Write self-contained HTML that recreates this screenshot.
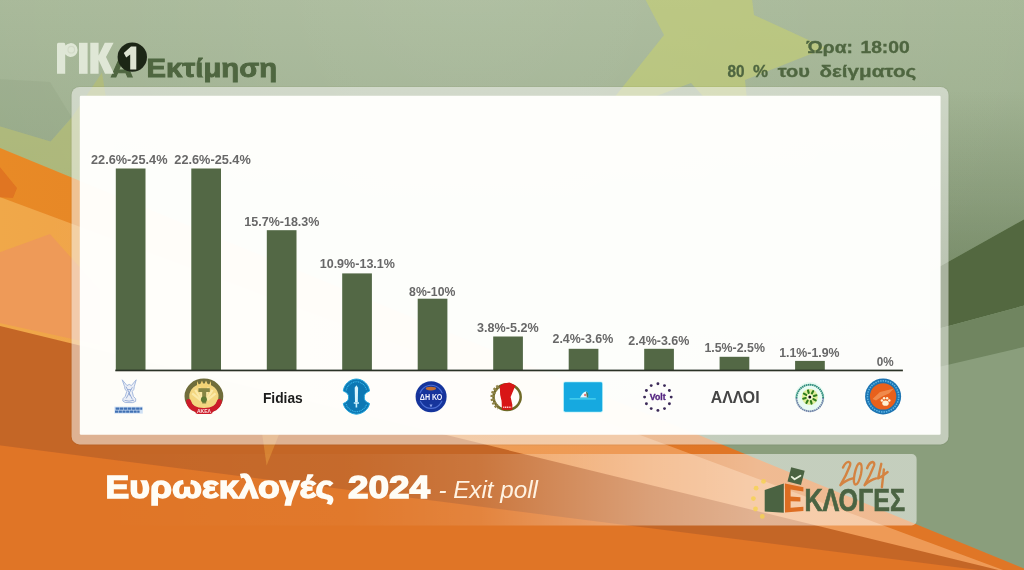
<!DOCTYPE html>
<html lang="el"><head><meta charset="utf-8"><title>Ευρωεκλογές 2024 - Exit poll</title>
<style>html,body{margin:0;padding:0;background:#8a9e7c;overflow:hidden}body{width:1024px;height:570px;font-family:"Liberation Sans",sans-serif}svg{display:block}text{font-family:"Liberation Sans",sans-serif}</style></head><body>
<svg width="1024" height="570" viewBox="0 0 1024 570">
<defs>
<linearGradient id="bg" x1="0" y1="0" x2="0" y2="1"><stop offset="0" stop-color="#a8b999"/><stop offset="0.35" stop-color="#9aac8c"/><stop offset="0.6" stop-color="#8a9e7c"/><stop offset="1" stop-color="#8a9e7c"/></linearGradient>
<linearGradient id="band" x1="0" y1="0" x2="1" y2="0"><stop offset="0" stop-color="#fff" stop-opacity="0"/><stop offset="0.315" stop-color="#fff" stop-opacity="0.03"/><stop offset="0.472" stop-color="#fff" stop-opacity="0.11"/><stop offset="0.569" stop-color="#fff" stop-opacity="0.24"/><stop offset="0.678" stop-color="#fff" stop-opacity="0.38"/><stop offset="0.811" stop-color="#fff" stop-opacity="0.5"/><stop offset="1" stop-color="#fff" stop-opacity="0.5"/></linearGradient>
<radialGradient id="glow" gradientUnits="userSpaceOnUse" cx="470" cy="-60" r="600"><stop offset="0" stop-color="#fff" stop-opacity="0.10"/><stop offset="0.5" stop-color="#fff" stop-opacity="0.04"/><stop offset="1" stop-color="#fff" stop-opacity="0"/></radialGradient>
<linearGradient id="o1" gradientUnits="userSpaceOnUse" x1="0" y1="0" x2="1024" y2="0"><stop offset="0" stop-color="#e88a28"/><stop offset="0.7" stop-color="#e07626"/></linearGradient>
<linearGradient id="o2" gradientUnits="userSpaceOnUse" x1="0" y1="0" x2="1024" y2="0"><stop offset="0" stop-color="#f0a848"/><stop offset="0.1" stop-color="#f0a44c"/><stop offset="0.6" stop-color="#ee9a56"/></linearGradient>
<linearGradient id="shade" gradientUnits="userSpaceOnUse" x1="0" y1="90" x2="0" y2="265"><stop offset="0" stop-color="#50663f" stop-opacity="0"/><stop offset="1" stop-color="#50663f" stop-opacity="0.36"/></linearGradient>
<filter id="b1" x="-5%" y="-5%" width="110%" height="110%"><feGaussianBlur stdDeviation="0.7"/></filter>
<filter id="b2" x="-5%" y="-5%" width="110%" height="110%"><feGaussianBlur stdDeviation="0.45"/></filter>
</defs>
<g filter="url(#b1)">
<rect x="-5" y="-5" width="1034" height="580" fill="url(#bg)"/>
<rect x="-5" y="-5" width="1034" height="580" fill="url(#glow)"/>
<polygon points="643,-5 664,35 598,118 691,83 752,150 745,80 826,48 754,15 751.5,-5" fill="#c8d06e" fill-opacity="0.56"/>
<polygon points="-5,79 50,82 71.5,117 50.6,141.5 -5,125" fill="#5f7650" fill-opacity="0.08"/>
<polygon points="102,72.5 71,118.5 50.6,141.5 -5,125 -5,200 122,200" fill="#b9c06a" fill-opacity="0.55"/>
<polygon points="1030,90 930,90 930,272 1030,216" fill="url(#shade)"/>
<polygon points="1030,216 930,272 930,331 1030,304" fill="#52683f"/>
<polygon points="1030,304 930,331 930,369 1030,345.6" fill="#6f8560"/>
<polygon points="-5,146 1030,571 1030,580 -5,580" fill="url(#o1)"/>
<polygon points="-5,195.2 1030,580 -5,580" fill="url(#o2)"/>
<polygon points="-5,161 17,188 13,198 -5,197" fill="#e07420"/>
<polygon points="-5,254 50,234 100,290 100,345 -5,322" fill="#ee9a58"/>
<polygon points="-5,324.8 1030,577.7 1030,580 -5,580" fill="#c46628"/>
<polygon points="-5,444.8 1030,576.6 1030,580 -5,580" fill="#e07426"/>
<polygon points="266.6,465.5 261.6,430 280.8,430" fill="#eeaa3c" fill-opacity="0.42"/>
</g>
<rect x="90" y="454" width="826.6" height="71.4" rx="5" fill="url(#band)"/>
<g filter="url(#b2)">
<rect x="70.6" y="85.9" width="878.9" height="359.5" rx="9" fill="#3c4a30" fill-opacity="0.06"/>
<rect x="71.6" y="86.9" width="876.9" height="357.5" rx="8" fill="#fff" fill-opacity="0.5"/>
<rect x="79.8" y="95.7" width="860.8" height="339" rx="1.2" fill="#fffffd" fill-opacity="0.965"/>
</g>
<g filter="url(#b2)">
<rect x="115.8" y="168.5" width="29.7" height="201.9" fill="#526845"/>
<rect x="191.3" y="168.5" width="29.7" height="201.9" fill="#526845"/>
<rect x="266.8" y="230.2" width="29.7" height="140.2" fill="#526845"/>
<rect x="342.2" y="273.4" width="29.7" height="97.0" fill="#526845"/>
<rect x="417.7" y="298.7" width="29.7" height="71.7" fill="#526845"/>
<rect x="493.2" y="336.5" width="29.7" height="33.9" fill="#526845"/>
<rect x="568.7" y="348.8" width="29.7" height="21.6" fill="#526845"/>
<rect x="644.2" y="348.8" width="29.7" height="21.6" fill="#526845"/>
<rect x="719.6" y="356.8" width="29.7" height="13.6" fill="#526845"/>
<rect x="795.1" y="360.9" width="29.7" height="9.5" fill="#526845"/>
<rect x="115.3" y="369.6" width="787.6" height="1.7" fill="#2c3326"/>
<text x="91.0" y="164.4" font-size="12.8" font-weight="bold" fill="#686868" textLength="76.5" lengthAdjust="spacingAndGlyphs">22.6%-25.4%</text>
<text x="174.3" y="164.4" font-size="12.8" font-weight="bold" fill="#686868" textLength="76.5" lengthAdjust="spacingAndGlyphs">22.6%-25.4%</text>
<text x="244.3" y="225.9" font-size="12.8" font-weight="bold" fill="#686868" textLength="75.1" lengthAdjust="spacingAndGlyphs">15.7%-18.3%</text>
<text x="319.7" y="267.8" font-size="12.8" font-weight="bold" fill="#686868" textLength="75.3" lengthAdjust="spacingAndGlyphs">10.9%-13.1%</text>
<text x="409.1" y="295.5" font-size="12.8" font-weight="bold" fill="#686868" textLength="46.3" lengthAdjust="spacingAndGlyphs">8%-10%</text>
<text x="477.1" y="332.2" font-size="12.8" font-weight="bold" fill="#686868" textLength="61.5" lengthAdjust="spacingAndGlyphs">3.8%-5.2%</text>
<text x="552.5" y="342.7" font-size="12.8" font-weight="bold" fill="#686868" textLength="60.8" lengthAdjust="spacingAndGlyphs">2.4%-3.6%</text>
<text x="628.3" y="345.3" font-size="12.8" font-weight="bold" fill="#686868" textLength="61.1" lengthAdjust="spacingAndGlyphs">2.4%-3.6%</text>
<text x="704.4" y="352.3" font-size="12.8" font-weight="bold" fill="#686868" textLength="60.5" lengthAdjust="spacingAndGlyphs">1.5%-2.5%</text>
<text x="779.2" y="357.3" font-size="12.8" font-weight="bold" fill="#686868" textLength="60.3" lengthAdjust="spacingAndGlyphs">1.1%-1.9%</text>
<text x="876.7" y="365.9" font-size="12.8" font-weight="bold" fill="#686868" textLength="16.9" lengthAdjust="spacingAndGlyphs">0%</text>
</g>
<g filter="url(#b2)">
<text x="110.6" y="76.5" font-size="26.2" font-weight="bold" fill="#4f6640" stroke="#4f6640" stroke-width="0.9" textLength="30" lengthAdjust="spacingAndGlyphs">Α'</text>
<text x="146.6" y="76.5" font-size="26.2" font-weight="bold" fill="#4f6640" stroke="#4f6640" stroke-width="0.9" textLength="130.4" lengthAdjust="spacingAndGlyphs">Εκτίμηση</text>
<text x="806.7" y="53.0" font-size="17.2" font-weight="bold" fill="#4f6640" stroke="#4f6640" stroke-width="0.35" textLength="46.2" lengthAdjust="spacingAndGlyphs">Ώρα:</text>
<text x="860.4" y="53.0" font-size="17.2" font-weight="bold" fill="#4f6640" stroke="#4f6640" stroke-width="0.35" textLength="49.4" lengthAdjust="spacingAndGlyphs">18:00</text>
<text x="727.6" y="76.8" font-size="17.2" font-weight="bold" fill="#4f6640" stroke="#4f6640" stroke-width="0.35" textLength="17.0" lengthAdjust="spacingAndGlyphs">80</text>
<text x="753.0" y="76.8" font-size="17.2" font-weight="bold" fill="#4f6640" stroke="#4f6640" stroke-width="0.35" textLength="15.0" lengthAdjust="spacingAndGlyphs">%</text>
<text x="777.7" y="76.8" font-size="17.2" font-weight="bold" fill="#4f6640" stroke="#4f6640" stroke-width="0.35" textLength="32.3" lengthAdjust="spacingAndGlyphs">του</text>
<text x="819.6" y="76.8" font-size="17.2" font-weight="bold" fill="#4f6640" stroke="#4f6640" stroke-width="0.35" textLength="96.6" lengthAdjust="spacingAndGlyphs">δείγματος</text>
<text x="105.5" y="497.5" font-size="31.4" font-weight="bold" fill="#fffdf6" stroke="#fffdf6" stroke-width="1.4" textLength="228.5" lengthAdjust="spacingAndGlyphs">Ευρωεκλογές</text>
<text x="347.9" y="497.5" font-size="31.4" font-weight="bold" fill="#fffdf6" stroke="#fffdf6" stroke-width="1.4" textLength="82" lengthAdjust="spacingAndGlyphs">2024</text>
<text x="438.4" y="497.5" font-size="23.3" font-style="italic" fill="#fff3e2" textLength="99.6" lengthAdjust="spacingAndGlyphs">- Exit poll</text>
<text x="262.9" y="402.5" font-size="15.4" font-weight="bold" fill="#1c1c1c" textLength="39.9" lengthAdjust="spacingAndGlyphs">Fidias</text>
<text x="710.7" y="403.1" font-size="17.1" font-weight="bold" fill="#454545" textLength="48.9" lengthAdjust="spacingAndGlyphs">ΑΛΛΟΙ</text>
</g>
<g filter="url(#b2)">
<g>
<path d="M122.2,379.8 L127,385.6 L129.2,384.4 L131.4,385.6 L136.2,379.8 L134.2,386.8 Q134.6,389.4 132.2,391.6 L133.4,396.4 Q137,398.8 135.6,401.4 Q133.2,403.2 129,402.6 Q124.4,403.2 122.8,401 Q122,398.6 125.2,396.4 L126.8,391.4 Q124.2,389 124.6,386.6Z" fill="#eceff6" stroke="#9db2da" stroke-width="0.9"/>
<path d="M126,386.6 L132.4,399.4 M132.4,387.2 L126.2,398.4 M127.4,389.6 H131.2 M124.6,400.4 Q129,402 134,400.2 M128.6,393 L130.4,396" stroke="#8ea6d2" stroke-width="0.9" fill="none"/>
<rect x="114.4" y="406.6" width="28.4" height="7" fill="#cfe0f4"/>
<path d="M115.6,408.6 H142.2" stroke="#3f6fb3" stroke-width="2.1" stroke-dasharray="3.6 0.5"/>
<path d="M115,411.6 H139.6" stroke="#3f6fb3" stroke-width="2.1" stroke-dasharray="3.2 0.5"/>
</g>
<g>
<ellipse cx="203.9" cy="396.2" rx="17" ry="15.2" fill="#f3d680" stroke="#6f6d3a" stroke-width="4.8"/>
<path d="M197,381 L199.5,386 L202,380.5 L203.9,385.5 L206,380.5 L208.5,386 L211,381 L211,388 L197,388Z" fill="#f3d375"/>
<line x1="200.4" y1="400.2" x2="192.2" y2="393.4" stroke="#fbe9a8" stroke-width="2.2"/>
<line x1="201.3" y1="399.1" x2="195.2" y2="389.9" stroke="#fbe9a8" stroke-width="2.2"/>
<line x1="202.5" y1="398.4" x2="199.3" y2="387.5" stroke="#fbe9a8" stroke-width="2.2"/>
<line x1="205.3" y1="398.4" x2="208.5" y2="387.5" stroke="#fbe9a8" stroke-width="2.2"/>
<line x1="206.5" y1="399.1" x2="212.6" y2="389.9" stroke="#fbe9a8" stroke-width="2.2"/>
<line x1="207.4" y1="400.2" x2="215.6" y2="393.4" stroke="#fbe9a8" stroke-width="2.2"/>
<rect x="198.4" y="388.2" width="11.4" height="3.8" fill="#868645"/>
<rect x="202.2" y="392" width="4" height="11.5" fill="#868645"/>
<circle cx="203.9" cy="399.6" r="3" fill="#5f7a34"/>
<path d="M188.6,401.5 Q190.5,410.6 203.9,410.4 Q217.4,410.6 219.4,401.5" fill="none" stroke="#cc1b2b" stroke-width="5" stroke-linecap="round"/>
<path d="M197.5,411.6 H210.5" stroke="#cc1b2b" stroke-width="4.6" stroke-linecap="round"/>
<text x="203.9" y="412.6" font-size="4.6" font-weight="bold" fill="#ffe3e3" text-anchor="middle" textLength="14" lengthAdjust="spacingAndGlyphs">ΑΚΕΛ</text>
</g>
<g>
<path d="M343.3,391 C344,384 350,379.2 356.4,379 C362.8,379.2 368.8,384 369.5,391 Q363.6,393.4 364.3,397.2 Q363.6,401 369.5,403.5 C368.5,409.5 362.5,413.8 356.4,414.2 C350.3,413.8 344.3,409.5 343.3,403.5 Q349.2,401 348.5,397.2 Q349.2,393.4 343.3,391Z" fill="#0e78b4" stroke="#24a6dc" stroke-width="1"/>
<path d="M346.2,390.4 C347,385.5 351.5,381.8 356.4,381.7 C361.3,381.8 365.8,385.5 366.6,390.4 M346.2,404 C347.2,408.4 351.5,411.4 356.4,411.7 C361.3,411.4 365.6,408.4 366.6,404" fill="none" stroke="#39b9ea" stroke-width="1.1" stroke-dasharray="1 0.8"/>
<path d="M356.4,385.2 L358.1,387.8 L357.8,402.2 L355,402.2 L354.7,387.8Z" fill="#d9f4fd"/>
<path d="M353.8,403 H359 M356.4,403 V407.4" stroke="#c8effc" stroke-width="1.6"/>
</g>
<g>
<circle cx="431.1" cy="396.8" r="15.5" fill="#17369c"/>
<circle cx="431.1" cy="396.8" r="11.6" fill="none" stroke="#4d6fd6" stroke-width="1.1"/>
<rect x="417" y="393.4" width="28.2" height="7.4" fill="#15329a"/>
<ellipse cx="430.9" cy="388.6" rx="5.2" ry="1.8" fill="#c06c30"/>
<text x="431.1" y="400.2" font-size="8.8" font-weight="bold" fill="#f1f4ff" text-anchor="middle" textLength="22.6" lengthAdjust="spacingAndGlyphs">ΔΗ ΚΟ</text>
<path d="M429.5,404.6 L432.5,404.6 L431,407.5Z" fill="#8fa6ee"/>
</g>
<g>
<ellipse cx="507.1" cy="397.1" rx="13.6" ry="12.9" fill="none" stroke="#6f6a28" stroke-width="2.5"/>
<path d="M498.5,386.5 A13.6 12.9 0 0 0 498.5,407.7" fill="none" stroke="#8f8248" stroke-width="4.4" stroke-dasharray="2 1.5"/>
<path d="M499.8,385.8 L504,383.6 L509.5,382.4 L515.4,385.4 L510.6,397.1 L512.3,404.5 L512.3,409.8 L502,409.8 L501.6,401 L500.2,395Z" fill="#d81212"/>
<path d="M503.2,407.3 H511.2" stroke="#ffd2d2" stroke-width="1.6" stroke-dasharray="1.2 0.6"/>
</g>
<g>
<rect x="563" y="381.5" width="40" height="31" rx="2" fill="#8fe9f8" fill-opacity="0.55"/>
<rect x="563.9" y="382.3" width="38.3" height="29.4" rx="1.4" fill="#15a9e0"/>
<path d="M569.5,398.9 H595.8" stroke="#63e4f5" stroke-width="1.2" stroke-opacity="0.8"/>
<path d="M580,397.6 Q583,391.6 586,391.6 Q588.6,392.4 588.2,397.6Z" fill="#e9fbff"/>
<path d="M586,391.8 Q589,392.2 588.2,397.6 L586.8,397.6Z" fill="#3c7a68"/>
<circle cx="585.2" cy="395" r="1.2" fill="#e87878"/>
</g>
<g>
<circle cx="657.9" cy="383.8" r="1.45" fill="#3b2a58"/>
<circle cx="664.5" cy="385.6" r="1.45" fill="#3b2a58"/>
<circle cx="669.4" cy="390.5" r="1.45" fill="#3b2a58"/>
<circle cx="671.2" cy="397.1" r="1.45" fill="#3b2a58"/>
<circle cx="669.4" cy="403.8" r="1.45" fill="#3b2a58"/>
<circle cx="664.5" cy="408.6" r="1.45" fill="#3b2a58"/>
<circle cx="657.9" cy="410.4" r="1.45" fill="#3b2a58"/>
<circle cx="651.2" cy="408.6" r="1.45" fill="#3b2a58"/>
<circle cx="646.4" cy="403.8" r="1.45" fill="#3b2a58"/>
<circle cx="644.6" cy="397.1" r="1.45" fill="#3b2a58"/>
<circle cx="646.4" cy="390.5" r="1.45" fill="#3b2a58"/>
<circle cx="651.2" cy="385.6" r="1.45" fill="#3b2a58"/>
<text x="657.7" y="400.2" font-size="9" font-weight="bold" fill="#532580" stroke="#532580" stroke-width="0.35" text-anchor="middle" textLength="15.8" lengthAdjust="spacingAndGlyphs">Volt</text>
</g>
<g>
<circle cx="809.8" cy="397.0" r="15" fill="#e9fbf3"/>
<path d="M796.5,398.0 A13.3 13.3 0 0 1 823.1,398.0" fill="none" stroke="#2f8d7c" stroke-width="1.9" stroke-dasharray="1.6 0.5"/>
<path d="M796.5,398.0 A13.3 13.3 0 0 0 823.1,398.0" fill="none" stroke="#6d7fa6" stroke-width="1.8" stroke-dasharray="1.6 0.5"/>
<circle cx="809.8" cy="397.0" r="8" fill="#e0ee9c"/>
<line x1="808.7" y1="392.9" x2="808.0" y2="390.4" stroke="#2f7d1f" stroke-width="2.1" stroke-linecap="round"/>
<line x1="811.9" y1="393.4" x2="813.2" y2="391.1" stroke="#2f7d1f" stroke-width="2.1" stroke-linecap="round"/>
<line x1="813.9" y1="395.9" x2="816.4" y2="395.2" stroke="#2f7d1f" stroke-width="2.1" stroke-linecap="round"/>
<line x1="813.4" y1="399.1" x2="815.7" y2="400.4" stroke="#2f7d1f" stroke-width="2.1" stroke-linecap="round"/>
<line x1="810.9" y1="401.1" x2="811.6" y2="403.6" stroke="#2f7d1f" stroke-width="2.1" stroke-linecap="round"/>
<line x1="807.7" y1="400.6" x2="806.4" y2="402.9" stroke="#2f7d1f" stroke-width="2.1" stroke-linecap="round"/>
<line x1="805.7" y1="398.1" x2="803.2" y2="398.8" stroke="#2f7d1f" stroke-width="2.1" stroke-linecap="round"/>
<line x1="806.2" y1="394.9" x2="803.9" y2="393.6" stroke="#2f7d1f" stroke-width="2.1" stroke-linecap="round"/>
<circle cx="809.8" cy="397.0" r="2.7" fill="#f6fbe0"/>
<circle cx="809.8" cy="397.0" r="1.5" fill="#111"/>
</g>
<g>
<circle cx="883.1" cy="396.4" r="18" fill="#1b73b1"/>
<circle cx="883.1" cy="396.4" r="15.6" fill="none" stroke="#5cb4e4" stroke-width="1.6" stroke-dasharray="1.5 1"/>
<circle cx="883.1" cy="396.4" r="13.2" fill="#e8601a"/>
<path d="M872.5,399 L880,392 L894,388.5 L889,393.5 L882,396.5 L876,400.5Z" fill="#f08a4c"/>
<ellipse cx="885.5" cy="403.2" rx="3.2" ry="2.6" fill="#fff1d4"/>
<circle cx="881.9" cy="400.4" r="1.25" fill="#fff1d4"/>
<circle cx="884.1" cy="398.2" r="1.25" fill="#fff1d4"/>
<circle cx="887.1" cy="398.2" r="1.25" fill="#fff1d4"/>
<circle cx="889.3" cy="400.4" r="1.25" fill="#fff1d4"/>
</g>
</g>
<g filter="url(#b2)">
<g fill="#eef2e6" fill-opacity="0.8">
<path d="M57,44.3 Q57,42.8 58.5,42.8 H63.6 Q65,42.8 65.2,44.2 L65.4,45.6 A6.9 6.9 0 1 1 65.2,54.2 V73.8 H57Z"/>
<rect x="79" y="42.8" width="8.6" height="31"/>
<path d="M90.3,42.8 H98.6 V55.5 L104.8,42.8 H113.6 L106,57 L114,73.8 H105 L98.6,60 V73.8 H90.3Z"/>
</g>
<circle cx="71.3" cy="49.7" r="3.3" fill="none" stroke="#cdd6c2" stroke-width="1.2" stroke-opacity="0.7"/>
<circle cx="132.3" cy="57.1" r="14.7" fill="#1d2518"/>
<path d="M123.8,53 L131,46.6 H136.3 V69.6 H130.2 V54.6 L126.2,57.6Z" fill="#dde4d2"/>
</g>
<g filter="url(#b2)">
<circle cx="763.5" cy="481.4" r="2.4" fill="#f6d24e" fill-opacity="0.78" filter="url(#b1)"/>
<circle cx="756.1" cy="488.2" r="2.4" fill="#f6d24e" fill-opacity="0.78" filter="url(#b1)"/>
<circle cx="753.4" cy="498.6" r="2.4" fill="#f6d24e" fill-opacity="0.78" filter="url(#b1)"/>
<circle cx="755.5" cy="509.0" r="2.4" fill="#f6d24e" fill-opacity="0.78" filter="url(#b1)"/>
<circle cx="762.3" cy="516.4" r="2.4" fill="#f6d24e" fill-opacity="0.78" filter="url(#b1)"/>
<path d="M764.7,490 L783.8,483.5 L783.8,512.7 L764.7,511.5Z" fill="#4b6443"/>
<path d="M785,483.5 L803.4,487.2 L803.4,491.6 L790.6,489.6 L790.6,496.6 L800.4,497.2 L800.4,501.4 L790.6,501.2 L790.6,507.8 L803.4,506.8 L803.4,511 L785,512.6Z" fill="#dd6d22"/>
<path d="M791.2,467.3 L804.7,470.7 L801,485.1 L787.5,481.4Z" fill="#4b6443"/>
<path d="M791.8,476.9 L794.6,479.3 L800.4,475.8" fill="none" stroke="#eaf1de" stroke-width="1.9" stroke-linecap="round" stroke-linejoin="round"/>
<text x="804.4" y="511.2" font-size="30.6" font-weight="bold" fill="#4b6443" stroke="#4b6443" stroke-width="0.7" textLength="100.6" lengthAdjust="spacingAndGlyphs">ΚΛΟΓΕΣ</text>
<g fill="none" stroke="#d47e3a" stroke-width="2.4" stroke-opacity="0.94" stroke-linecap="round" stroke-linejoin="round">
<path d="M843,467.6 Q845.5,462 848.6,461.9 Q851,462.4 850,465.5 Q846,476 840.4,485.2 Q846,480 852.8,478.4"/>
<path d="M859.6,463.3 Q863,464 861,474 Q858.5,484.5 855.6,484.6 Q852.6,484 854.6,474 Q857,463.4 859.6,463.3Z"/>
<path d="M867.1,468.2 Q869.5,462.2 872.6,462 Q875,462.6 874,465.6 Q870,476 864.6,485.2 Q870,480 876.2,478.4"/>
<path d="M881.3,463.8 L878.1,478.4 Q883,476 887.6,472 M883.9,469.4 L881.9,487.2"/>
</g>
</g>
</svg></body></html>
